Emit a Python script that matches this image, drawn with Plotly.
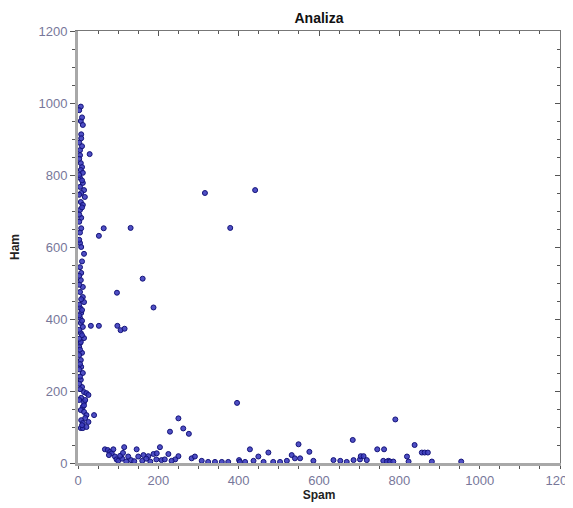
import plotly.graph_objects as go

# Left column (small Spam, spread Ham)
spam_left = [7, 7, 12, 8, 8, 5, 5, 29, 7, 10, 7, 12, 5, 12, 5, 15, 8, 17, 7, 12, 5, 8,
             8, 64, 52, 5, 8, 15, 5, 8, 7, 12, 5, 12, 15, 97, 5, 8, 5, 7, 12, 7, 15, 5,
             32, 52, 98, 106, 116,
             7, 3, 10, 7, 8, 12, 7, 10, 15, 21, 26, 8, 15, 12, 7, 15, 21, 40, 8, 12, 26, 7, 12, 21,
             3, 10, 3, 10, 3, 3, 10, 3, 10, 3, 3, 5, 3, 10, 3, 3, 8, 3, 10, 3, 10, 3, 10, 3,
             5, 3, 5, 3, 5, 3, 5, 3, 18, 10, 15, 18]
ham_left = [990, 950, 939, 913, 902, 869, 855, 858, 833, 822, 814, 806, 792, 778, 767, 758, 750, 739, 725, 717, 703, 681,
            652, 652, 631, 611, 600, 581, 544, 528, 508, 489, 475, 461, 447, 473, 431, 417, 403, 389, 378, 361, 347, 333,
            381, 381, 381, 369, 373,
            336, 322, 306, 286, 267, 250, 231, 211, 197, 194, 189, 181, 169, 156, 147, 142, 133, 133, 119, 111, 114, 97, 97, 100,
            980, 960, 890, 880, 845, 800, 785, 745, 710, 690, 670, 640, 620, 560, 520, 495, 455, 440, 425, 410, 395, 370, 355, 345,
            315, 300, 275, 260, 240, 220, 205, 175, 125, 105, 160, 175]

# Scattered points in the middle
spam_mid = [316, 441, 379, 131, 161, 188, 396]
ham_mid = [750, 758, 653, 653, 512, 432, 167]

# Bottom band (spread Spam, small Ham)
spam_bottom = [67, 74, 80, 84, 88, 77, 92, 96, 100, 115, 125, 132, 146, 150, 163, 175, 188, 196, 204, 225,
               229, 250, 262, 276, 250, 242, 283, 291, 308, 324, 341, 358, 374, 401, 208, 216, 233,
               110, 120, 140, 160, 180, 195, 105, 112, 170,
               428, 449, 474, 403, 416, 437, 462, 486, 503, 520, 532, 540, 549, 553, 576, 586, 636, 653,
               669, 686, 684, 702, 704, 711, 719, 745, 762, 760, 773,
               790, 769, 777, 785, 838, 819, 823, 856, 863, 871, 881, 954]
ham_bottom = [38, 36, 31, 27, 38, 22, 18, 10, 6, 44, 18, 8, 38, 18, 22, 19, 25, 27, 44, 25,
              87, 124, 96, 81, 19, 10, 13, 18, 6, 3, 3, 3, 3, 8, 8, 10, 6,
              12, 4, 5, 6, 4, 10, 20, 28, 12,
              38, 18, 29, 3, 3, 6, 3, 3, 3, 6, 22, 13, 52, 13, 31, 6, 8, 6,
              3, 8, 64, 10, 19, 19, 8, 38, 38, 6, 6,
              121, 4, 4, 4, 50, 18, 4, 29, 29, 29, 4, 4]

spam = spam_left + spam_mid + spam_bottom
ham = ham_left + ham_mid + ham_bottom

x_ticks = [0, 200, 400, 600, 800, 1000, 1200]
y_ticks = [0, 200, 400, 600, 800, 1000, 1200]

tick_font = dict(family="Liberation Sans, Arial, sans-serif", size=13, color="#77779a")
axis_title_font = dict(family="Liberation Sans, Arial, sans-serif", size=12, color="#222222")

fig = go.Figure()
fig.add_trace(go.Scatter(
    x=spam, y=ham, mode="markers",
    marker=dict(size=5, color="rgba(60,60,190,0.9)", line=dict(color="#14147a", width=1)),
    showlegend=False, cliponaxis=False,
))

common_axis = dict(showgrid=False, zeroline=False, range=[0, 1200], automargin=False)

fig.update_layout(
    width=565, height=500,
    margin=dict(l=70, r=13, t=23, b=45),
    paper_bgcolor="white", plot_bgcolor="white",
    title=dict(text="<b>Analiza</b>", x=0.5, xanchor="center", xref="paper", y=0.99, yanchor="top",
               automargin=False,
               font=dict(family="Liberation Sans, Arial, sans-serif", size=14, color="#111111")),
    xaxis=dict(**common_axis, tickvals=x_ticks, ticktext=[str(v) for v in x_ticks],
               tickfont=tick_font, ticks="outside", ticklen=3, tickcolor="#555555",
               ticklabeloverflow="allow",
               showline=True, linecolor="#a8a8a8", linewidth=3,
               minor=dict(dtick=50, ticks="outside", ticklen=3, tickcolor="#555555"),
               title=dict(text="<b>Spam</b>", font=axis_title_font, standoff=0)),
    yaxis=dict(**common_axis, tickvals=y_ticks, ticktext=[str(v) for v in y_ticks],
               tickfont=tick_font, ticks="outside", ticklen=5, tickcolor="#555555",
               ticklabeloverflow="allow",
               showline=True, linecolor="#a8a8a8", linewidth=3,
               minor=dict(dtick=50, ticks="outside", ticklen=3, tickcolor="#555555"),
               title=dict(text="<b>Ham</b>", font=axis_title_font, standoff=20)),
    xaxis2=dict(**common_axis, overlaying="x", side="top", showticklabels=False,
                tickvals=x_ticks, ticks="inside", ticklen=5, tickcolor="#555555",
                showline=True, linecolor="#777777", linewidth=1,
                minor=dict(dtick=50, ticks="inside", ticklen=3, tickcolor="#555555")),
    yaxis2=dict(**common_axis, overlaying="y", side="right", showticklabels=False,
                tickvals=y_ticks, ticks="inside", ticklen=5, tickcolor="#555555",
                showline=True, linecolor="#777777", linewidth=1,
                minor=dict(dtick=50, ticks="inside", ticklen=3, tickcolor="#555555")),
)
# invisible trace to activate mirror axes
fig.add_trace(go.Scatter(x=[None], y=[None], xaxis="x2", yaxis="y2", showlegend=False, hoverinfo="skip"))

fig.write_html("out.html")
